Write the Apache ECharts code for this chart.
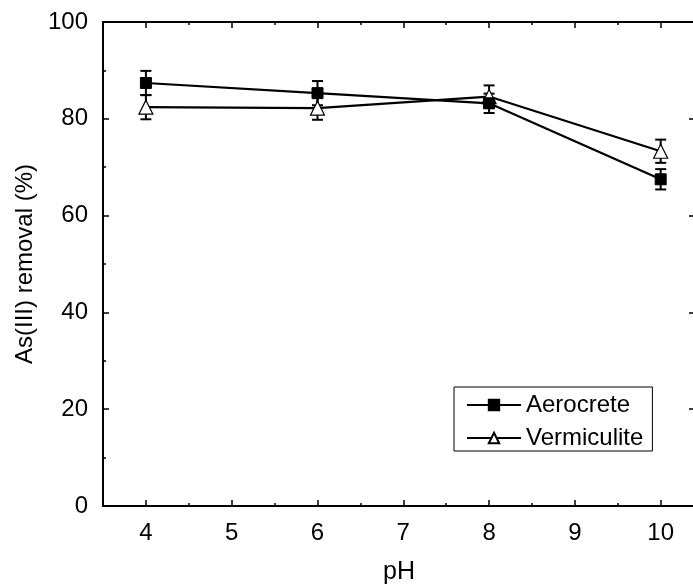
<!DOCTYPE html>
<html>
<head>
<meta charset="utf-8">
<script src="https://cdn.jsdelivr.net/npm/echarts@6/dist/echarts.min.js"></script>
<style>
html,body{margin:0;padding:0;background:#fff;overflow:hidden;width:693px;height:584px;}
#c{width:700px;height:584px;}
</style>
</head>
<body>
<div id="c"></div>
<script>
var pH = [4, 6, 8, 10];
var aerocrete = [87.4, 85.3, 83.2, 67.5];
var aerocreteErr = [2.5, 2.5, 2.0, 2.1];
var vermiculite = [82.4, 82.2, 84.6, 73.3];
var vermiculiteErr = [2.5, 2.4, 2.3, 2.4];
var xMajorTicks = [4, 5, 6, 7, 8, 9, 10];
var xMinorTicks = [4.5, 5.5, 6.5, 7.5, 8.5, 9.5];

var FONT = '"Liberation Sans", Arial, sans-serif';

function pairs(xs, ys) { return xs.map(function (x, i) { return [x, ys[i]]; }); }
function errData(xs, ys, es) { return xs.map(function (x, i) { return [x, ys[i] - es[i], ys[i] + es[i]]; }); }

function errRender(params, api) {
  var x = api.value(0);
  var lo = api.coord([x, api.value(1)]);
  var hi = api.coord([x, api.value(2)]);
  var hw = 5.5;
  var st = { stroke: '#000', lineWidth: 2 };
  return {
    type: 'group',
    children: [
      { type: 'line', shape: { x1: lo[0], y1: lo[1], x2: hi[0], y2: hi[1] }, style: st },
      { type: 'line', shape: { x1: lo[0] - hw, y1: lo[1], x2: lo[0] + hw, y2: lo[1] }, style: st },
      { type: 'line', shape: { x1: hi[0] - hw, y1: hi[1], x2: hi[0] + hw, y2: hi[1] }, style: st }
    ]
  };
}

var chart = echarts.init(document.getElementById('c'), null, { renderer: 'canvas' });
var xBase = { type: 'value', min: 3.5, max: 10.4, splitLine: { show: false } };
chart.setOption({
  backgroundColor: '#fff',
  animation: false,
  textStyle: { fontFamily: FONT },
  grid: { left: 103, right: 5, top: 22, bottom: 78, outerBoundsMode: 'none', containLabel: false },
  xAxis: [
    Object.assign({}, xBase, {
      position: 'bottom',
      axisLine: { show: true, lineStyle: { color: '#000', width: 2 } },
      axisTick: { show: true, inside: true, length: 6, customValues: xMajorTicks, lineStyle: { color: '#000', width: 1.5 } },
      axisLabel: { show: true, customValues: xMajorTicks, fontSize: 24, color: '#000', fontFamily: FONT, margin: 15 },
      name: 'pH', nameLocation: 'middle', nameGap: 54,
      nameTextStyle: { fontSize: 25, color: '#000', fontFamily: FONT }
    }),
    Object.assign({}, xBase, {
      position: 'bottom',
      axisLine: { show: false },
      axisTick: { show: true, inside: true, length: 3, customValues: xMinorTicks, lineStyle: { color: '#000', width: 1.5 } },
      axisLabel: { show: false }
    }),
    Object.assign({}, xBase, {
      position: 'top',
      axisLine: { show: true, lineStyle: { color: '#000', width: 2 } },
      axisTick: { show: true, inside: true, length: 6, customValues: xMajorTicks, lineStyle: { color: '#000', width: 1.5 } },
      axisLabel: { show: false }
    }),
    Object.assign({}, xBase, {
      position: 'top',
      axisLine: { show: false },
      axisTick: { show: true, inside: true, length: 3, customValues: xMinorTicks, lineStyle: { color: '#000', width: 1.5 } },
      axisLabel: { show: false }
    })
  ],
  yAxis: [
    {
      type: 'value', min: 0, max: 100, interval: 20, position: 'left',
      splitLine: { show: false },
      axisLine: { show: true, lineStyle: { color: '#000', width: 2 } },
      axisTick: { show: true, inside: true, length: 6, lineStyle: { color: '#000', width: 1.5 } },
      minorTick: { show: true, splitNumber: 2, length: 3, lineStyle: { color: '#000', width: 1.5 } },
      minorSplitLine: { show: false },
      axisLabel: { fontSize: 24, color: '#000', fontFamily: FONT, margin: 15 },
      name: 'As(III) removal (%)', nameLocation: 'middle', nameGap: 53,
      nameTextStyle: { fontSize: 24, color: '#000', fontFamily: FONT }
    },
    {
      type: 'value', min: 0, max: 100, interval: 20, position: 'right',
      splitLine: { show: false },
      axisLine: { show: true, lineStyle: { color: '#000', width: 2 } },
      axisTick: { show: true, inside: true, length: 6, lineStyle: { color: '#000', width: 1.5 } },
      axisLabel: { show: false }
    }
  ],
  legend: {
    data: ['Aerocrete', 'Vermiculite'],
    orient: 'vertical',
    left: 454, top: 387,
    padding: [6, 9, 1, 12],
    itemGap: 9,
    itemWidth: 54, itemHeight: 13,
    borderColor: '#000', borderWidth: 1,
    textStyle: { fontSize: 24, color: '#000', fontFamily: FONT, lineHeight: 24 }
  },
  series: [
    { type: 'custom', renderItem: errRender, data: errData(pH, aerocrete, aerocreteErr), z: 1, encode: { x: 0, y: [1, 2] }, silent: true },
    { type: 'custom', renderItem: errRender, data: errData(pH, vermiculite, vermiculiteErr), z: 1, encode: { x: 0, y: [1, 2] }, silent: true },
    {
      name: 'Aerocrete', type: 'line', data: pairs(pH, aerocrete), z: 3,
      symbol: 'rect', symbolSize: 11,
      lineStyle: { color: '#000', width: 2.2 },
      itemStyle: { color: '#000', borderColor: '#000', borderWidth: 1 }
    },
    {
      name: 'Vermiculite', type: 'line', data: pairs(pH, vermiculite), z: 2,
      symbol: 'triangle', symbolSize: 14,
      lineStyle: { color: '#000', width: 2.2 },
      itemStyle: { color: '#fff', borderColor: '#000', borderWidth: 1.2 }
    }
  ]
});
</script>
</body>
</html>
